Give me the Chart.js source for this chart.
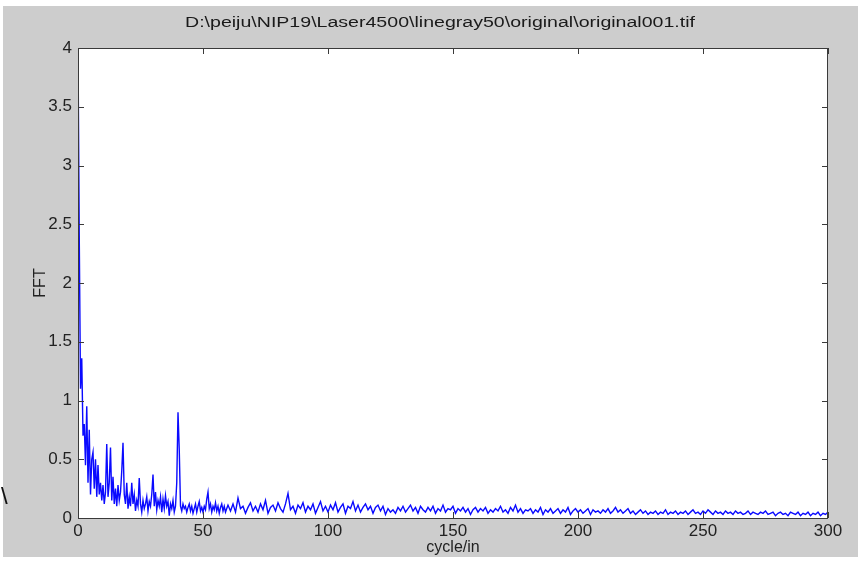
<!DOCTYPE html>
<html><head><meta charset="utf-8">
<script src="https://cdn.jsdelivr.net/npm/chart.js@4.4.1/dist/chart.umd.min.js"></script>
<style>html,body{margin:0;padding:0;background:#fff;}#wrap{width:858px;height:577px;position:relative;}</style>
</head><body><div id="wrap"><canvas id="c" width="858" height="577"></canvas></div>
<script>
const titleText = 'D:\\peiju\\NIP19\\Laser4500\\linegray50\\original\\original001.tif';
const xAxisLabel = 'cycle/in';
const yAxisLabel = 'FFT';
const xTicks = [0, 50, 100, 150, 200, 250, 300];
const yTicks = [0, 0.5, 1, 1.5, 2, 2.5, 3, 3.5, 4];

// 0 .. 60 cycle/in, step 0.5
const lowBandStart = 0, lowBandStep = 0.5;
const lowBandFFT = [
  4.0, 2.4, 1.1, 1.36, 0.7, 0.8, 0.45, 0.95, 0.3, 0.75,
  0.2, 0.5, 0.56, 0.25, 0.5, 0.18, 0.45, 0.2, 0.3, 0.15,
  0.28, 0.12, 0.22, 0.63, 0.18, 0.3, 0.6, 0.15, 0.35, 0.12,
  0.25, 0.1, 0.28, 0.15, 0.22, 0.4, 0.64, 0.2, 0.12, 0.3,
  0.08, 0.18, 0.1, 0.3, 0.12, 0.2, 0.06, 0.15, 0.1, 0.34,
  0.12, 0.05, 0.15, 0.08, 0.12, 0.18, 0.06, 0.14, 0.1, 0.2,
  0.37, 0.1, 0.22, 0.07, 0.15, 0.1, 0.18, 0.05, 0.16, 0.08,
  0.19, 0.1, 0.14, 0.02, 0.12, 0.08, 0.15, 0.05, 0.1, 0.3,
  0.9, 0.58, 0.1, 0.06, 0.12, 0.08, 0.1, 0.05, 0.09, 0.12,
  0.06, 0.1, 0.04, 0.08, 0.12, 0.05, 0.1, 0.14, 0.06, 0.09,
  0.05, 0.1, 0.07, 0.16, 0.22, 0.08, 0.12, 0.05, 0.1, 0.07,
  0.13, 0.06, 0.1, 0.04, 0.09, 0.12, 0.06, 0.1, 0.05, 0.08,
  0.11
];
// 61 .. 300 cycle/in, step 1
const highBandStart = 61, highBandStep = 1;
const highBandFFT = [
  0.06,0.12,0.05,0.17,0.08,0.1,0.04,0.09,0.13,0.06,
  0.1,0.05,0.12,0.07,0.15,0.04,0.09,0.11,0.06,0.13,
  0.08,0.05,0.12,0.21,0.07,0.1,0.04,0.11,0.08,0.13,
  0.05,0.1,0.07,0.12,0.04,0.09,0.14,0.06,0.1,0.05,
  0.11,0.07,0.13,0.05,0.09,0.12,0.04,0.1,0.08,0.14,
  0.06,0.11,0.05,0.09,0.12,0.07,0.1,0.04,0.09,0.11,
  0.06,0.1,0.03,0.08,0.05,0.07,0.04,0.09,0.06,0.1,
  0.05,0.08,0.11,0.06,0.09,0.04,0.1,0.07,0.05,0.09,
  0.06,0.1,0.04,0.08,0.06,0.11,0.05,0.08,0.07,0.1,
  0.04,0.08,0.06,0.09,0.05,0.08,0.03,0.07,0.09,0.05,
  0.08,0.06,0.09,0.04,0.07,0.05,0.08,0.06,0.1,0.05,
  0.07,0.04,0.09,0.06,0.11,0.05,0.08,0.04,0.07,0.06,
  0.08,0.04,0.07,0.05,0.09,0.03,0.07,0.05,0.08,0.04,
  0.06,0.08,0.04,0.07,0.05,0.09,0.03,0.06,0.08,0.05,
  0.07,0.04,0.06,0.08,0.03,0.07,0.05,0.06,0.04,0.07,
  0.05,0.08,0.04,0.06,0.09,0.05,0.07,0.04,0.06,0.08,
  0.04,0.06,0.03,0.05,0.07,0.04,0.06,0.03,0.05,0.04,
  0.06,0.03,0.05,0.04,0.07,0.03,0.05,0.04,0.06,0.03,
  0.05,0.04,0.06,0.03,0.05,0.07,0.04,0.05,0.03,0.06,
  0.04,0.07,0.05,0.03,0.06,0.04,0.05,0.03,0.06,0.04,
  0.05,0.03,0.06,0.04,0.05,0.03,0.04,0.06,0.03,0.05,
  0.04,0.03,0.05,0.04,0.06,0.03,0.04,0.05,0.02,0.04,
  0.05,0.03,0.04,0.02,0.05,0.04,0.03,0.05,0.02,0.04,
  0.03,0.05,0.02,0.04,0.03,0.05,0.02,0.04,0.03,0.05
];

const points = [];
lowBandFFT.forEach((v, i) => points.push({x: lowBandStart + i * lowBandStep, y: v}));
highBandFFT.forEach((v, i) => points.push({x: highBandStart + i * highBandStep, y: v}));

const FONT = '"Liberation Sans", Arial, sans-serif';

const figurePlugin = {
  id: 'figure',
  beforeDraw(chart) {
    const ctx = chart.ctx, a = chart.chartArea;
    ctx.save();
    ctx.fillStyle = '#ffffff';
    ctx.fillRect(0, 0, chart.width, chart.height);
    ctx.fillStyle = '#cdcdcd';
    ctx.fillRect(3, 6, chart.width - 3, 551);
    ctx.fillStyle = '#ffffff';
    ctx.fillRect(a.left, a.top, a.right - a.left, a.bottom - a.top);
    ctx.restore();
  },
  afterDraw(chart) {
    const ctx = chart.ctx, a = chart.chartArea;
    const xs = chart.scales.x, ys = chart.scales.y;
    ctx.save();
    ctx.strokeStyle = '#3a3a3a';
    ctx.lineWidth = 1;
    ctx.strokeRect(a.left + 0.5, a.top + 0.5, a.right - a.left - 1, a.bottom - a.top);
    ctx.beginPath();
    const tl = 6;
    xTicks.forEach(v => {
      const px = Math.round(xs.getPixelForValue(v)) + 0.5;
      ctx.moveTo(px, a.bottom); ctx.lineTo(px, a.bottom - tl);
      ctx.moveTo(px, a.top); ctx.lineTo(px, a.top + tl);
    });
    yTicks.forEach(v => {
      const py = Math.round(ys.getPixelForValue(v)) + 0.5;
      ctx.moveTo(a.left, py); ctx.lineTo(a.left + tl, py);
      ctx.moveTo(a.right, py); ctx.lineTo(a.right - tl, py);
    });
    ctx.stroke();
    // title
    ctx.fillStyle = '#1a1a1a';
    ctx.font = '14px ' + FONT;
    const w = ctx.measureText(titleText).width;
    const target = 510;
    ctx.translate(440, 27);
    ctx.scale(target / w, 1);
    ctx.textAlign = 'center';
    ctx.textBaseline = 'alphabetic';
    ctx.fillText(titleText, 0, 0);
    ctx.restore();
    // stray mark at left edge
    ctx.save();
    ctx.fillStyle = '#111';
    ctx.font = '24px ' + FONT;
    ctx.textBaseline = 'alphabetic';
    ctx.fillText('\\', 1, 504);
    ctx.restore();
  }
};

new Chart(document.getElementById('c'), {
  type: 'line',
  data: {
    datasets: [{
      data: points,
      borderColor: '#0a0aff',
      borderWidth: 1.4,
      pointRadius: 0,
      tension: 0,
      fill: false
    }]
  },
  options: {
    responsive: false,
    animation: false,
    devicePixelRatio: 1,
    layout: { padding: { left: 31, right: 30, top: 48, bottom: 20 } },
    plugins: { legend: { display: false }, tooltip: { enabled: false }, title: { display: false } },
    scales: {
      x: {
        type: 'linear', min: 0, max: 300,
        afterBuildTicks: s => { s.ticks = xTicks.map(v => ({value: v})); },
        afterFit: s => { s.height = 39; },
        grid: { display: false, drawTicks: false },
        border: { display: false },
        ticks: { padding: 3, color: '#222', font: { family: FONT, size: 17 }, callback: v => String(v), maxRotation: 0, autoSkip: false },
        title: { display: true, text: xAxisLabel, color: '#222', font: { family: FONT, size: 16 }, padding: 0 }
      },
      y: {
        type: 'linear', min: 0, max: 4,
        afterBuildTicks: s => { s.ticks = yTicks.map(v => ({value: v})); },
        afterFit: s => { s.width = 47; },
        grid: { display: false, drawTicks: false },
        border: { display: false },
        ticks: { padding: 6, color: '#222', font: { family: FONT, size: 17 }, callback: v => String(v), autoSkip: false },
        title: { display: true, text: yAxisLabel, color: '#222', font: { family: FONT, size: 16 }, padding: 0 }
      }
    }
  },
  plugins: [figurePlugin]
});
</script>
</body></html>
